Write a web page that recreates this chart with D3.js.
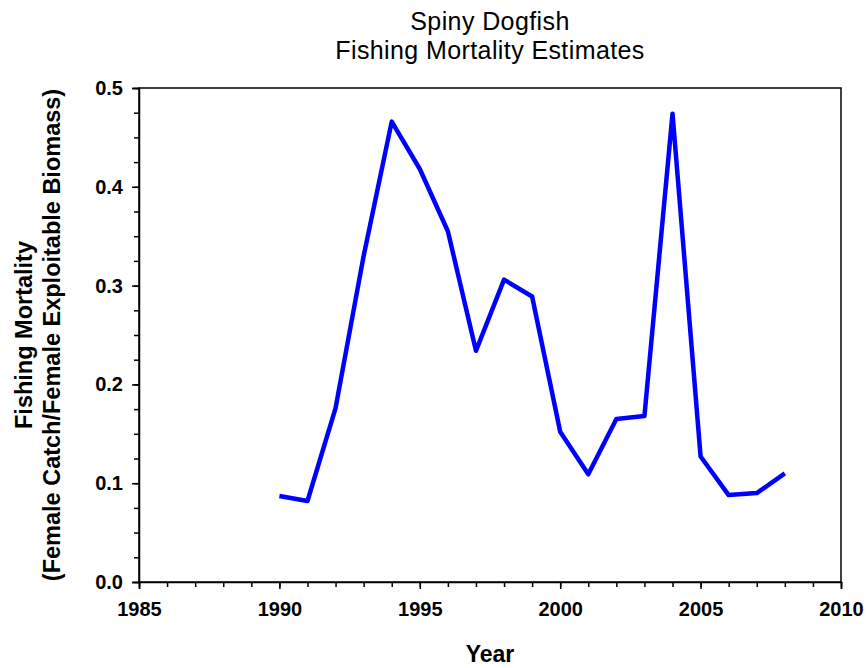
<!DOCTYPE html>
<html>
<head>
<meta charset="utf-8">
<script src="https://cdn.jsdelivr.net/npm/d3@7"></script>
<style>
  body { margin: 0; background: #fff; }
  svg { font-family: "Liberation Sans", Arial, sans-serif; }
</style>
</head>
<body>
<div id="chart"></div>
<script>
// data
var years = [1990, 1991, 1992, 1993, 1994, 1995, 1996, 1997, 1998, 1999,
             2000, 2001, 2002, 2003, 2004, 2005, 2006, 2007, 2008];
var mortality = [0.087, 0.082, 0.176, 0.330, 0.466, 0.418, 0.355, 0.234, 0.306, 0.289,
                 0.152, 0.109, 0.165, 0.168, 0.474, 0.127, 0.088, 0.090, 0.110];
var xTicks = [1985, 1990, 1995, 2000, 2005, 2010];
var yTicks = [0.0, 0.1, 0.2, 0.3, 0.4, 0.5];
var titleLines = ["Spiny Dogfish", "Fishing Mortality Estimates"];
var yTitleLines = ["Fishing Mortality", "(Female Catch/Female Exploitable Biomass)"];

var width = 866, height = 668;
var margin = {top: 88, right: 25, bottom: 86, left: 139};

var svg = d3.select("#chart").append("svg")
    .attr("width", width)
    .attr("height", height);

var x = d3.scaleLinear()
    .domain([1985, 2010])
    .range([margin.left, width - margin.right]);

var y = d3.scaleLinear()
    .domain([0, 0.5])
    .range([height - margin.bottom, margin.top]);

// frame (top and right lines)
svg.append("rect")
    .attr("x", x(1985))
    .attr("y", y(0.5))
    .attr("width", x(2010) - x(1985))
    .attr("height", y(0) - y(0.5))
    .attr("fill", "none")
    .attr("stroke", "#000")
    .attr("stroke-width", 1.5);

// minor ticks
svg.append("g")
    .attr("transform", "translate(0," + y(0) + ")")
    .call(d3.axisBottom(x).tickValues(d3.range(1985, 2011, 1)).tickSize(5).tickFormat(""))
    .call(g => g.select(".domain").remove())
    .selectAll("line").attr("stroke-width", 1.5);

svg.append("g")
    .attr("transform", "translate(" + x(1985) + ",0)")
    .call(d3.axisLeft(y).tickValues(d3.range(0, 0.5001, 0.025)).tickSize(5).tickFormat(""))
    .call(g => g.select(".domain").remove())
    .selectAll("line").attr("stroke-width", 1.5);

// x axis
var xAxis = svg.append("g")
    .attr("transform", "translate(0," + y(0) + ")")
    .call(d3.axisBottom(x).tickValues(xTicks).tickSize(7).tickPadding(13).tickFormat(d3.format("d")));
xAxis.select(".domain").attr("stroke-width", 1.5);
xAxis.selectAll("line").attr("stroke-width", 1.5);
xAxis.selectAll("text")
    .attr("font-size", 20)
    .attr("font-weight", "bold")
    .attr("font-family", "Liberation Sans, Arial, sans-serif")
    .attr("fill", "#000");

// y axis
var yAxis = svg.append("g")
    .attr("transform", "translate(" + x(1985) + ",0)")
    .call(d3.axisLeft(y).tickValues(yTicks).tickSize(7).tickPadding(9).tickFormat(d3.format(".1f")));
yAxis.select(".domain").attr("stroke-width", 1.5);
yAxis.selectAll("line").attr("stroke-width", 1.5);
yAxis.selectAll("text")
    .attr("font-size", 20)
    .attr("font-weight", "bold")
    .attr("font-family", "Liberation Sans, Arial, sans-serif")
    .attr("fill", "#000");

// the line
var line = d3.line()
    .x((d, i) => x(years[i]))
    .y(d => y(d));

svg.append("path")
    .datum(mortality)
    .attr("fill", "none")
    .attr("stroke", "#0000ff")
    .attr("stroke-width", 4.5)
    .attr("stroke-linejoin", "round")
    .attr("d", line);

// title, two lines
var cx = (x(1985) + x(2010)) / 2;
svg.selectAll(".title")
    .data(titleLines)
    .join("text")
    .attr("class", "title")
    .attr("x", cx)
    .attr("y", (d, i) => 30 + i * 28.5)
    .attr("text-anchor", "middle")
    .attr("font-size", 25)
    .attr("letter-spacing", 0.4)
    .text(d => d);

// axis titles
svg.append("text")
    .attr("x", cx)
    .attr("y", 661.5)
    .attr("text-anchor", "middle")
    .attr("font-size", 23)
    .attr("font-weight", "bold")
    .text("Year");

var cy = (y(0) + y(0.5)) / 2;
svg.append("text")
    .attr("transform", "translate(31.7," + cy + ") rotate(-90)")
    .attr("text-anchor", "middle")
    .attr("font-size", 23.5)
    .attr("font-weight", "bold")
    .selectAll("tspan")
    .data(yTitleLines)
    .join("tspan")
    .attr("x", 0)
    .attr("dy", (d, i) => i == 0 ? 0 : 28.3)
    .text(d => d);
</script>
</body>
</html>
